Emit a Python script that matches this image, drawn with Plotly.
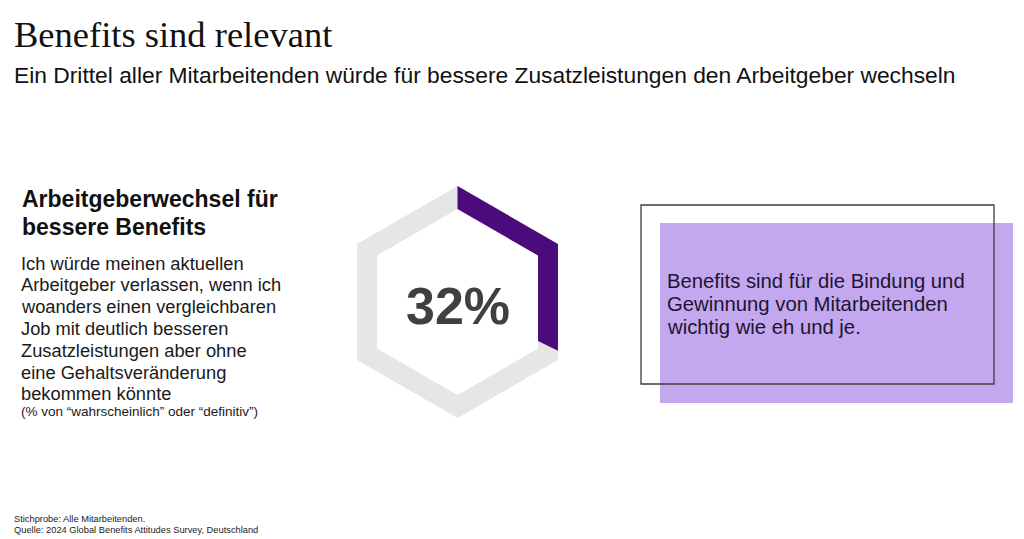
import numpy as np
import plotly.graph_objects as go

# Data
title_text = "Benefits sind relevant"
subtitle_text = "Ein Drittel aller Mitarbeitenden würde für bessere Zusatzleistungen den Arbeitgeber wechseln"
heading_lines = ["Arbeitgeberwechsel für", "bessere Benefits"]
body_lines = [
    "Ich würde meinen aktuellen",
    "Arbeitgeber verlassen, wenn ich",
    "woanders einen vergleichbaren",
    "Job mit deutlich besseren",
    "Zusatzleistungen aber ohne",
    "eine Gehaltsveränderung",
    "bekommen könnte",
]
note_text = "(% von “wahrscheinlich” oder “definitiv”)"
share_value = 32  # percent
callout_lines = [
    "Benefits sind für die Bindung und",
    "Gewinnung von Mitarbeitenden",
    "wichtig wie eh und je.",
]
footnote_lines = [
    "Stichprobe: Alle Mitarbeitenden.",
    "Quelle: 2024 Global Benefits Attitudes Survey, Deutschland",
]

W, H = 1024, 539
PURPLE = "#4b0b7a"
GRAY = "#e6e6e6"
LAVENDER = "#c3a8ef"

# hexagon geometry (pointy top, perimeter runs clockwise from the top vertex)
cx, cy = 457.5, 302
r_out, r_in = 116, 93


def hex_pt(t, r):
    k = int(np.floor(t)) % 6
    f = t - np.floor(t)
    a0, a1 = np.radians(60 * k), np.radians(60 * (k + 1))
    x0, y0 = cx + r * np.sin(a0), cy - r * np.cos(a0)
    x1, y1 = cx + r * np.sin(a1), cy - r * np.cos(a1)
    return x0 + (x1 - x0) * f, y0 + (y1 - y0) * f


def band(t_end):
    ts = [t for t in range(0, 7) if t < t_end] + [t_end]
    outer = [hex_pt(t, r_out) for t in ts]
    inner = [hex_pt(t, r_in) for t in reversed(ts)]
    pts = outer + inner + [outer[0]]
    return [p[0] for p in pts], [p[1] for p in pts]


fig = go.Figure()

gx, gy = band(6)
fig.add_trace(go.Scatter(x=gx, y=gy, mode="lines", fill="toself", fillcolor=GRAY,
                         line=dict(width=0, color=GRAY), hoverinfo="skip"))
px_, py_ = band(6 * share_value / 100)
fig.add_trace(go.Scatter(x=px_, y=py_, mode="lines", fill="toself", fillcolor=PURPLE,
                         line=dict(width=0, color=PURPLE), hoverinfo="skip"))

annots = []


def txt(x, y, text, size, family="Arial, Liberation Sans, sans-serif", color="#1a1a1a", bold=False,
        xanchor="left"):
    if bold:
        text = "<b>" + text + "</b>"
    annots.append(dict(x=x, y=y, xref="x", yref="y", text=text, showarrow=False, xanchor=xanchor,
                       yanchor="middle", font=dict(size=size, family=family, color=color)))


txt(12, 34, title_text, 36.5, family="Liberation Serif, Times New Roman, serif", color="#111111")
txt(12, 75, subtitle_text, 22.8, color="#111111")

for i, line in enumerate(heading_lines):
    txt(20, 199 + i * 28, line, 23, bold=True, color="#111111")
for i, line in enumerate(body_lines):
    txt(19, 263 + i * 21.8, line, 18.3, color="#1a1a1a")
txt(19, 411, note_text, 13.5, color="#1a1a1a")

txt(cx, 306, "<b>%d%%</b>" % share_value, 52, color="#404040", xanchor="center")

for i, line in enumerate(callout_lines):
    txt(665, 281 + i * 23, line, 20.3, color="#1c1430")

for i, line in enumerate(footnote_lines):
    txt(12, 519 + i * 11, line, 9.3, color="#222222")

fig.update_layout(
    width=W, height=H,
    margin=dict(l=0, r=0, t=0, b=0),
    paper_bgcolor="white", plot_bgcolor="white",
    showlegend=False,
    xaxis=dict(range=[0, W], visible=False, fixedrange=True),
    yaxis=dict(range=[H, 0], visible=False, fixedrange=True),
    annotations=annots,
    shapes=[
        dict(type="rect", xref="x", yref="y", x0=660, y0=223, x1=1013, y1=403,
             fillcolor=LAVENDER, line=dict(width=0), layer="below"),
        dict(type="rect", xref="x", yref="y", x0=641, y0=205, x1=994, y1=384,
             line=dict(color="#3c3c3c", width=1.3)),
    ],
)

# drop the browser's default page margin so the figure fills the window
fig.write_html("out.html", config=dict(displayModeBar=False),
               post_script="document.body.style.margin='0';")
